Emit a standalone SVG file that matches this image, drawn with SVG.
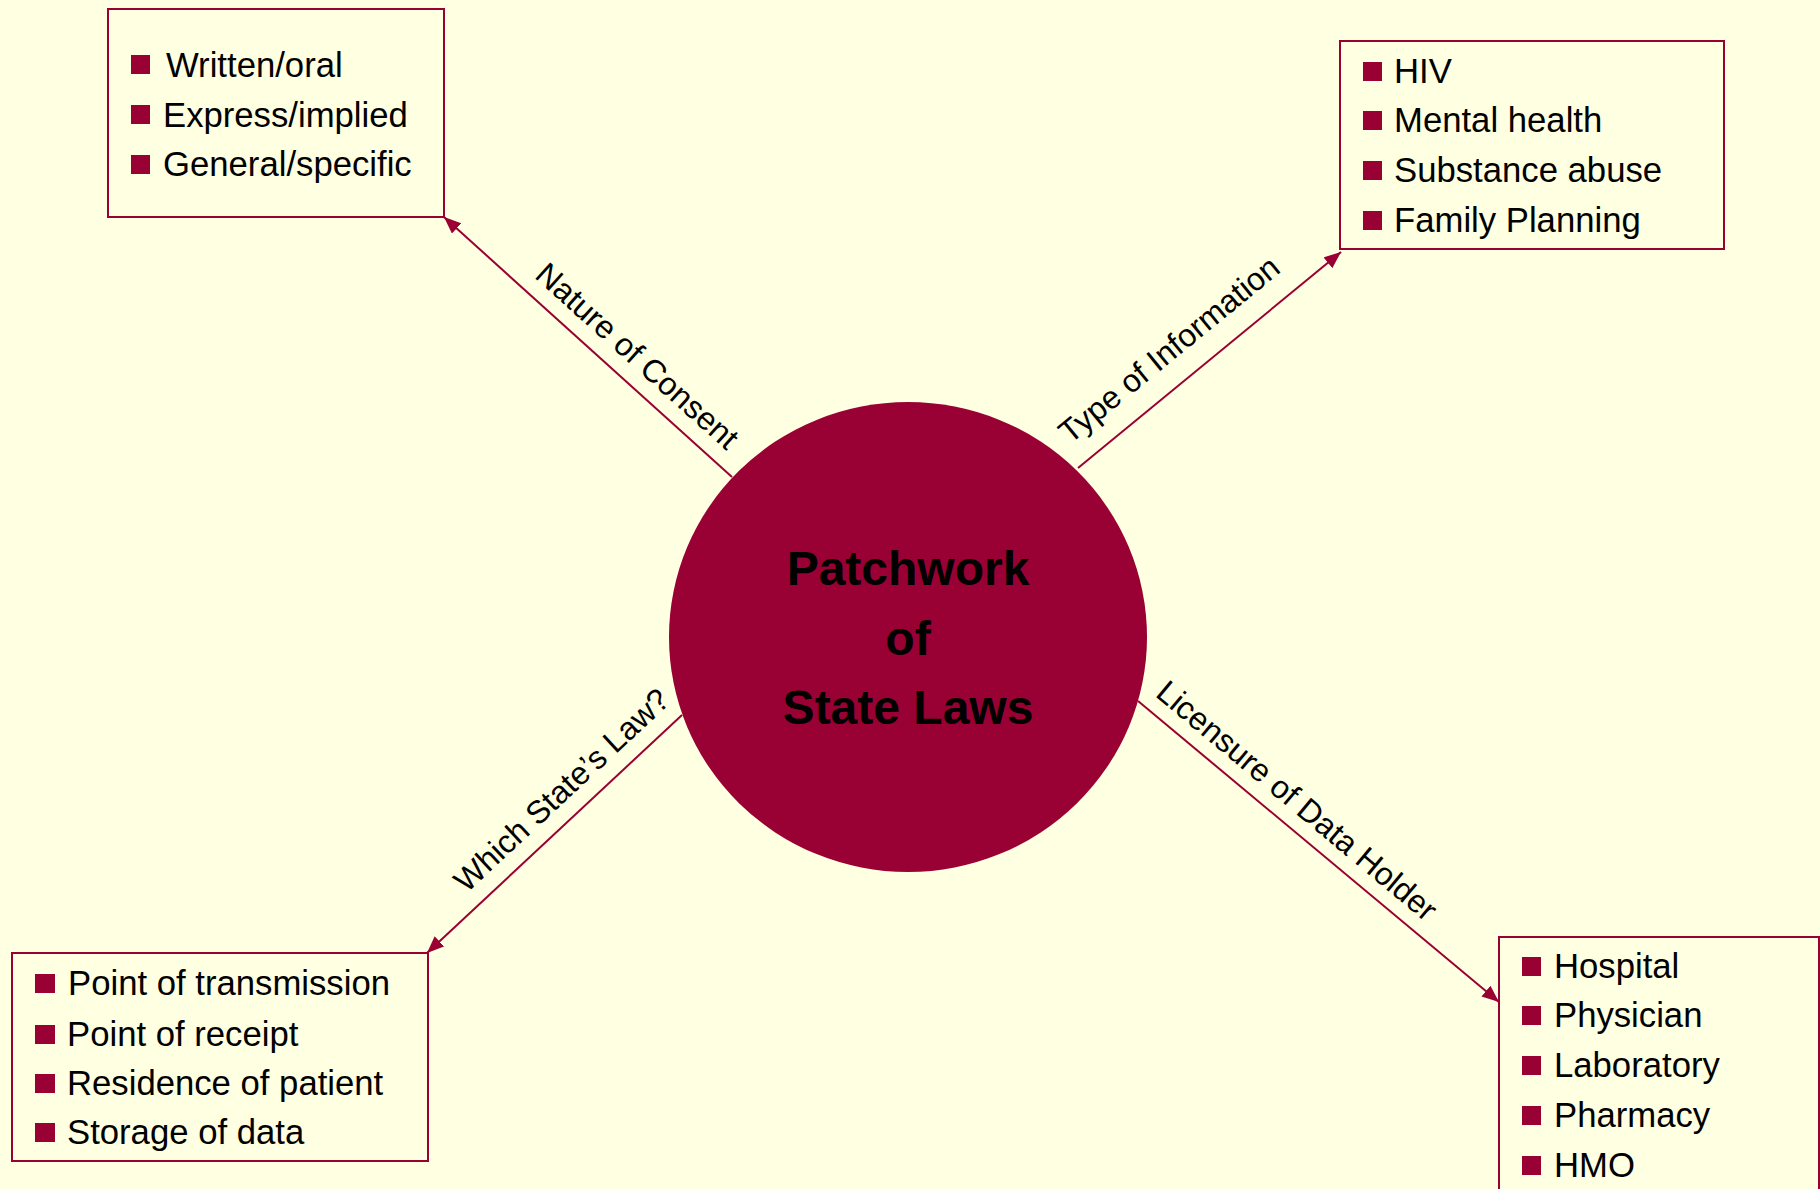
<svg xmlns="http://www.w3.org/2000/svg" width="1820" height="1189" viewBox="0 0 1820 1189">
  <defs>
    <style>
      .bg { fill: #FFFFE1; }
      .box { fill: none; stroke: #990033; stroke-width: 2; }
      .bullet { fill: #990033; }
      .item { font-family: "Liberation Sans", Arial, sans-serif; font-size: 34.7px; fill: #000; }
      .hub { fill: #990033; }
      .hub-text { font-family: "Liberation Sans", Arial, sans-serif; font-size: 48px; font-weight: bold; fill: #000; text-anchor: middle; }
      .edge { stroke: #990033; stroke-width: 2; fill: none; marker-end: url(#arrow); }
      .edge-label { font-family: "Liberation Sans", Arial, sans-serif; font-size: 32px; fill: #000; text-anchor: middle; }
    </style>
    <marker id="arrow" markerUnits="userSpaceOnUse" markerWidth="18" markerHeight="16" refX="17" refY="7" orient="auto">
      <path d="M0,0 L17,7 L0,14 z" fill="#990033"/>
    </marker>
  </defs>

  <rect class="bg" x="0" y="0" width="1820" height="1189"/>

  <!-- spokes from the hub out to each box -->
  <g id="connectors">
    <line class="edge" x1="732" y1="477" x2="444" y2="217"/>
    <line class="edge" x1="1078" y1="468" x2="1341" y2="252"/>
    <line class="edge" x1="682" y1="715" x2="427" y2="953"/>
    <line class="edge" x1="1138" y1="701" x2="1499" y2="1002"/>
    <text class="edge-label" transform="translate(630,364) rotate(42)">Nature of Consent</text>
    <text class="edge-label" transform="translate(1176,358) rotate(-39.3)">Type of Information</text>
    <text class="edge-label" transform="translate(569,798) rotate(-43)">Which State’s Law?</text>
    <text class="edge-label" transform="translate(1290,809) rotate(39.9)">Licensure of Data Holder</text>
  </g>

  <!-- central hub -->
  <g id="hub">
    <ellipse class="hub" cx="908" cy="637" rx="239" ry="235"/>
    <text class="hub-text" x="908" y="585">Patchwork</text>
    <text class="hub-text" x="908" y="655">of</text>
    <text class="hub-text" x="908" y="724">State Laws</text>
  </g>

  <!-- consent -->
  <g id="consent">
    <rect class="box" x="108" y="9" width="336" height="208"/>
    <rect class="bullet" x="131" y="55" width="19" height="19"/>
    <text class="item" x="166" y="77">Written/oral</text>
    <rect class="bullet" x="131" y="105" width="19" height="19"/>
    <text class="item" x="163" y="127">Express/implied</text>
    <rect class="bullet" x="131" y="155" width="19" height="19"/>
    <text class="item" x="163" y="176">General/specific</text>
  </g>

  <!-- information type -->
  <g id="info-type">
    <rect class="box" x="1340" y="41" width="384" height="208"/>
    <rect class="bullet" x="1363" y="62" width="19" height="19"/>
    <text class="item" x="1394" y="83">HIV</text>
    <rect class="bullet" x="1363" y="111" width="19" height="19"/>
    <text class="item" x="1394" y="132">Mental health</text>
    <rect class="bullet" x="1363" y="161" width="19" height="19"/>
    <text class="item" x="1394" y="182">Substance abuse</text>
    <rect class="bullet" x="1363" y="211" width="19" height="19"/>
    <text class="item" x="1394" y="232">Family Planning</text>
  </g>

  <!-- jurisdiction -->
  <g id="jurisdiction">
    <rect class="box" x="12" y="953" width="416" height="208"/>
    <rect class="bullet" x="35" y="974" width="20" height="19"/>
    <text class="item" x="68" y="995">Point of transmission</text>
    <rect class="bullet" x="35" y="1025" width="20" height="19"/>
    <text class="item" x="67" y="1046">Point of receipt</text>
    <rect class="bullet" x="35" y="1074" width="20" height="19"/>
    <text class="item" x="67" y="1095">Residence of patient</text>
    <rect class="bullet" x="35" y="1123" width="20" height="19"/>
    <text class="item" x="67" y="1144">Storage of data</text>
  </g>

  <!-- data holder licensure -->
  <g id="licensure">
    <rect class="box" x="1499" y="937" width="320" height="300"/>
    <rect class="bullet" x="1522" y="957" width="19" height="19"/>
    <text class="item" x="1554" y="978">Hospital</text>
    <rect class="bullet" x="1522" y="1006" width="19" height="19"/>
    <text class="item" x="1554" y="1027">Physician</text>
    <rect class="bullet" x="1522" y="1056" width="19" height="19"/>
    <text class="item" x="1554" y="1077">Laboratory</text>
    <rect class="bullet" x="1522" y="1106" width="19" height="19"/>
    <text class="item" x="1554" y="1127">Pharmacy</text>
    <rect class="bullet" x="1522" y="1156" width="19" height="19"/>
    <text class="item" x="1554" y="1177">HMO</text>
  </g>
</svg>
